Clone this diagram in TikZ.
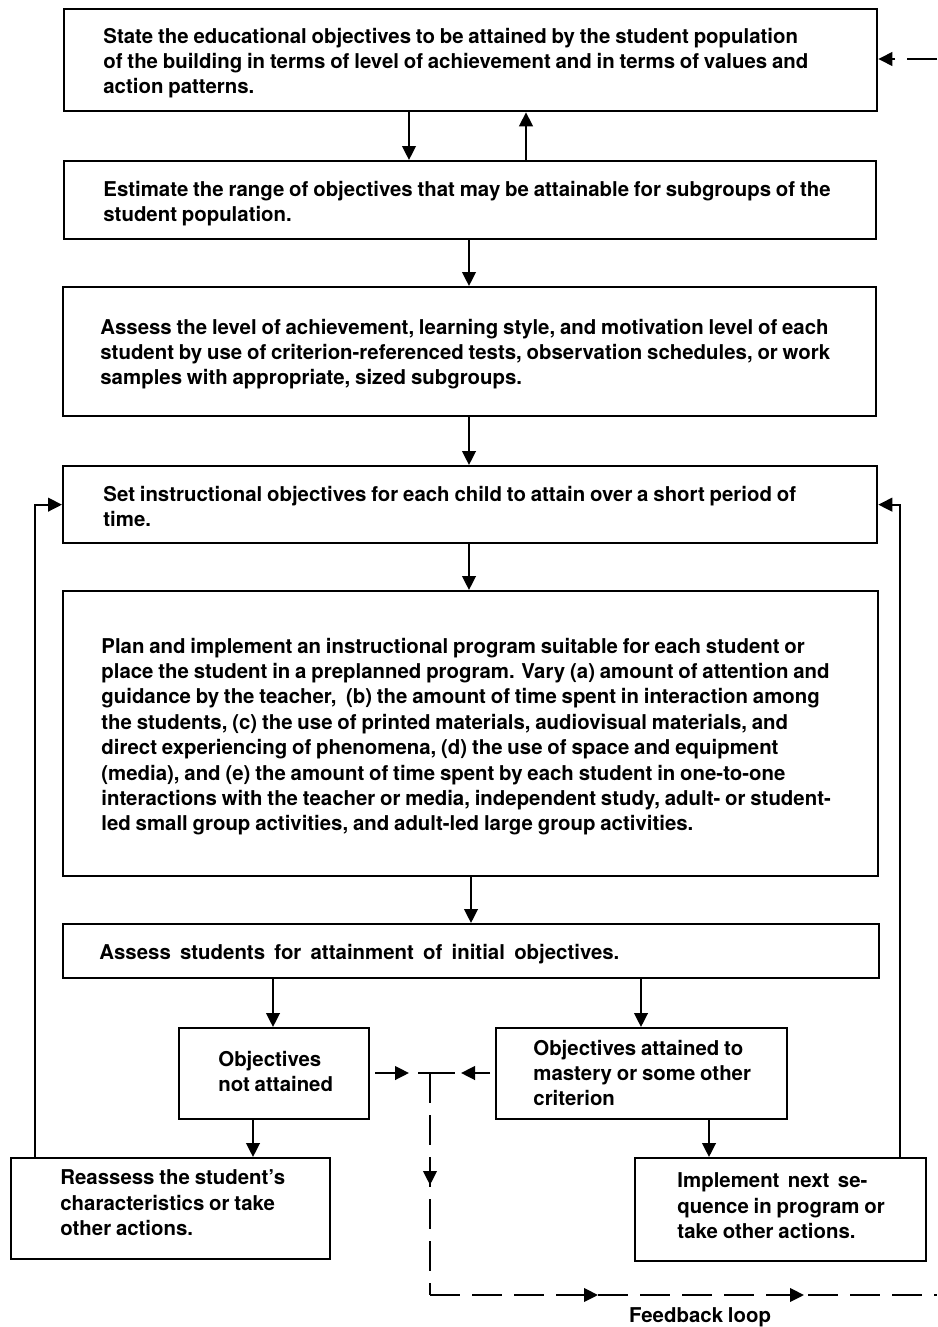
\documentclass[tikz,border=0pt]{standalone}
\usepackage{fontspec}
\setmainfont{TeX Gyre Heros}[WordSpace=0.85]
\usetikzlibrary{arrows.meta,decorations.markings}
\begin{document}
\begin{tikzpicture}[x=0.5pt,y=-0.5pt,
  box/.style={draw,line width=1.15pt,rectangle,inner sep=0pt,anchor=north west},
  txt/.style={anchor=north west,inner sep=0pt,align=left,font=\fontsize{10.2pt}{12.7pt}\selectfont\bfseries},
  arr/.style={line width=1.15pt,-{Triangle[length=7pt,width=6.8pt]}},
  dsh/.style={line width=1pt,dash pattern=on 15pt off 6pt},
  tipmark/.style={postaction={decorate},decoration={markings,
     mark=at position #1 with {\arrow{Triangle[length=7pt,width=6.8pt]}}}}
]
\useasboundingbox (0,0) rectangle (937,1327);
% boxes
\node[box,minimum width=406.5pt,minimum height=51pt] (b1) at (63,8) {};
\node[box,minimum width=406pt,minimum height=39pt] (b2) at (63,160) {};
\node[box,minimum width=406.5pt,minimum height=64.5pt] (b3) at (62,286) {};
\node[box,minimum width=407pt,minimum height=38.5pt] (b4) at (62,465) {};
\node[box,minimum width=407.5pt,minimum height=142.5pt] (b5) at (62,590) {};
\node[box,minimum width=408pt,minimum height=27pt] (b6) at (62,923) {};
\node[box,minimum width=95pt,minimum height=45.5pt] (b7) at (178,1027) {};
\node[box,minimum width=145.5pt,minimum height=45.5pt] (b8) at (495,1027) {};
\node[box,minimum width=159.5pt,minimum height=50.5pt] (b9) at (10,1157) {};
\node[box,minimum width=145.5pt,minimum height=51.5pt] (b10) at (634,1157) {};
% texts
\node[txt] (t1) at (103,27.5) {State the educational objectives to be attained by the student population\\of the building in terms of level of achievement and in terms of values and\\action patterns.};
\node[txt] (t2) at (103,180.5) {Estimate the range of objectives that may be attainable for subgroups of the\\student population.};
\node[txt] (t3) at (100,318.5) {Assess the level of achievement, learning style, and motivation level of each\\student by use of criterion-referenced tests, observation schedules, or work\\samples with appropriate, sized subgroups.};
\node[txt] (t4) at (103,485.5) {Set instructional objectives for each child to attain over a short period of\\time.};
\node[txt] (t5) at (101,637.5) {Plan and implement an instructional program suitable for each student or\\place the student in a preplanned program. Vary (a) amount of attention and\\guidance by the teacher, \ (b) the amount of time spent in interaction among\\the students, (c) the use of printed materials, audiovisual materials, and\\direct experiencing of phenomena, (d) the use of space and equipment\\(media), and (e) the amount of time spent by each student in one-to-one\\interactions with the teacher or media, independent study, adult- or student-\\led small group activities, and adult-led large group activities.};
\node[txt] (t6) at (99,943.5) {\makebox[260pt][s]{Assess students for attainment of initial objectives.}};
\node[txt] (t7) at (218,1050.5) {Objectives\\not attained};
\node[txt] (t8) at (533,1039.5) {Objectives attained to\\mastery or some other\\criterion};
\node[txt] (t9) at (60,1169.5) {Reassess the student's\\characteristics or take\\other actions.};
\node[txt] (t10) at (677,1172.5) {\makebox[95pt][s]{Implement next se-}\\quence in program or\\take other actions.};
\node[font=\fontsize{10.2pt}{12pt}\selectfont\bfseries,inner sep=0pt] (fb) at (700,1317) {Feedback loop};
% solid connectors
\draw[arr] (409,0 |- b1.south) -- (409,0 |- b2.north);
\draw[arr] (526,0 |- b2.north) -- (526,0 |- b1.south);
\draw[arr] (469,0 |- b2.south) -- (469,0 |- b3.north);
\draw[arr] (469,0 |- b3.south) -- (469,0 |- b4.north);
\draw[arr] (469,0 |- b4.south) -- (469,0 |- b5.north);
\draw[arr] (471,0 |- b5.south) -- (471,0 |- b6.north);
\draw[arr] (273,0 |- b6.south) -- (273,0 |- b7.north);
\draw[arr] (641,0 |- b6.south) -- (641,0 |- b8.north);
\draw[arr] (253,0 |- b7.south) -- (253,0 |- b9.north);
\draw[arr] (709,0 |- b8.south) -- (709,0 |- b10.north);
\draw[arr] (35,0 |- b9.north) |- (b4.west);
\draw[arr] (900,0 |- b10.north) |- (b4.east);
% junction
\coordinate (al) at (409,1073);
\coordinate (ar) at (461,1073);
\coordinate (tl) at (418,1073);
\coordinate (tr) at (455,1073);
\coordinate (tv) at (430,1073);
\coordinate (fc) at (430,1295);
\coordinate (fe) at (937,1295);
\coordinate (te) at (937,59);
\draw[arr] ([xshift=2.5pt]b7.east |- al) -- (al);
\draw[arr] ([xshift=-2.5pt]b8.west |- ar) -- (ar);
\draw[line width=1.15pt] (tl) -- (tr);
% dashed feedback
\draw[dsh,tipmark=56pt] (tv) -- (fc);
\draw[dsh,postaction={decorate},decoration={markings,
   mark=at position 84pt with {\arrow{Triangle[length=7pt,width=6.8pt]}},
   mark=at position 187pt with {\arrow{Triangle[length=7pt,width=6.8pt]}}}] (fc) -- (fe);
\draw[dsh,-{Triangle[length=7pt,width=6.8pt]}] (te) -- (b1.east |- te);
\end{tikzpicture}
\end{document}
